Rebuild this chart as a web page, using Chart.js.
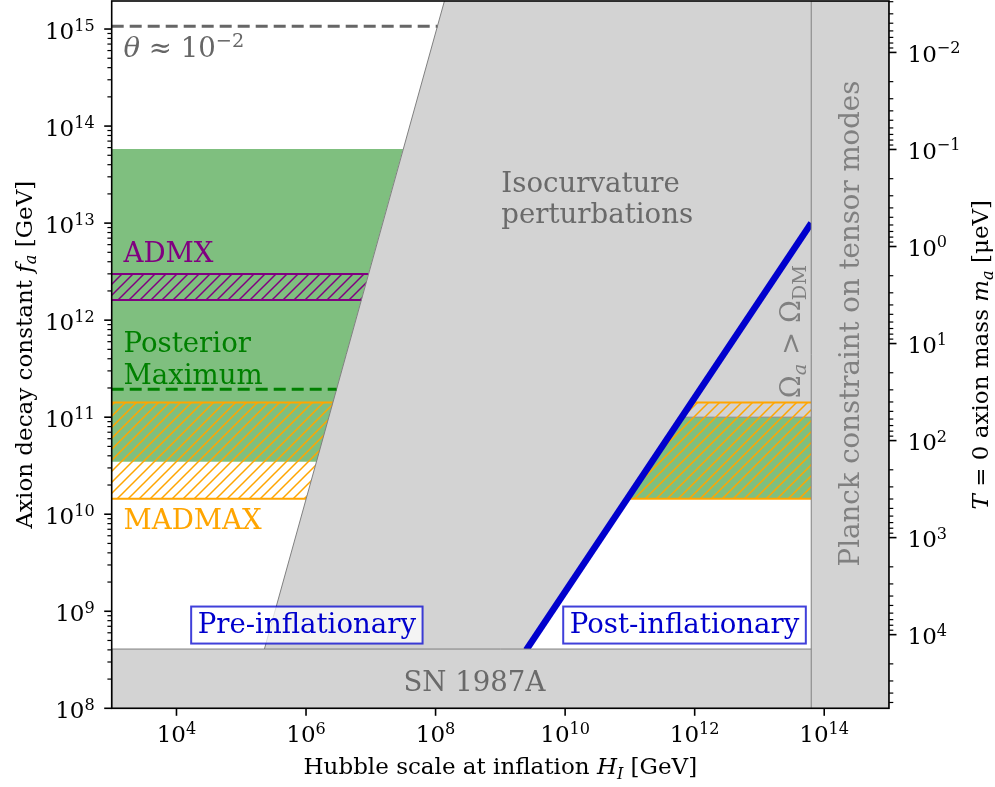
<!DOCTYPE html>
<html>
<head>
<meta charset="utf-8">
<script src="https://cdn.jsdelivr.net/npm/chart.js@4.4.1/dist/chart.umd.min.js"></script>
<style>
  html, body { margin: 0; padding: 0; background: #ffffff; }
  #c { display: block; }
</style>
</head>
<body>
<canvas id="c" width="995" height="787"></canvas>
<script>
// ---- axis ranges: Hubble scale H_I [GeV] and decay constant f_a [GeV] ----
const hubbleRange = [1e3, 1e15];
const decayRange = [1e8, 1.945e15];
// T = 0 axion mass: m_a [μeV] = massScale / f_a [GeV]
const massScale = 5.74e12;

// tick label exponents
const xTickExponents = [4, 6, 8, 10, 12, 14];
const yTickExponents = [8, 9, 10, 11, 12, 13, 14, 15];
const massTickExponents = [-2, -1, 0, 1, 2, 3, 4];

// excluded region: isocurvature (left edge) and Omega_a > Omega_DM (right side)
const exclRegionH = [1.27e5, 1.37e8, 1e15, 1e15, 6.28e11, 6.28e8];
const exclRegionF = [1e8, 1.945e15, 1.945e15, 1.0e11, 1.0e11, 1e8];
// isocurvature boundary
const isoEdgeH = [1.27e5, 1.37e8];
const isoEdgeF = [1e8, 1.945e15];
// lower edge of the Omega_a > Omega_DM region
const omegaEdgeH = [6.28e11, 6.3e13];
const omegaEdgeF = [1.0e11, 1.0e11];
// Omega_a = Omega_DM line, f_a = H_I / 2pi
const omegaLineH = [2.5e9, 6.3e13];
const omegaLineF = [3.98e8, 1.0e13];

// posterior region, pre-inflationary
const postPreH = [1e3, 1e3, 3.15e7, 1.45e6];
const postPreF = [3.47e10, 5.8e13, 5.8e13, 3.47e10];
// posterior region, post-inflationary
const postPostH = [9.05e10, 6.28e11, 6.3e13, 6.3e13];
const postPostF = [1.44e10, 1.0e11, 1.0e11, 1.44e10];

// ADMX reach
const admxH = [1e3, 1e3, 9.25e6, 7.15e6];
const admxF = [1.61e12, 2.99e12, 2.99e12, 1.61e12];
const admxTopH = [1e3, 9.25e6];
const admxBotH = [1e3, 7.15e6];
const admxTopF = [2.99e12, 2.99e12];
const admxBotF = [1.61e12, 1.61e12];

// MADMAX reach, pre- and post-inflationary
const madmaxPreH = [1e3, 1e3, 2.6e6, 1.0e6];
const madmaxPostH = [9.05e10, 8.92e11, 6.3e13, 6.3e13];
const madmaxF = [1.44e10, 1.42e11, 1.42e11, 1.44e10];
const madmaxPreTopH = [1e3, 2.6e6];
const madmaxPreBotH = [1e3, 1.0e6];
const madmaxPostTopH = [8.92e11, 6.3e13];
const madmaxPostBotH = [9.05e10, 6.3e13];
const madmaxTopF = [1.42e11, 1.42e11];
const madmaxBotF = [1.44e10, 1.44e10];

// SN 1987A bound
const snH = [1e3, 1e15, 1e15, 1e3, 1e3];
const snF = [1e8, 1e8, 4.08e8, 4.08e8, 1e8];
// Planck bound on tensor modes
const planckH = [6.3e13, 6.3e13, 1e15, 1e15, 6.3e13];
const planckF = [1e8, 1.945e15, 1.945e15, 1e8, 1e8];

// posterior maximum and theta ~ 1e-2 levels
const posteriorMaxH = [1e3, 2.96e6];
const posteriorMaxF = [1.94e11, 1.94e11];
const thetaH = [1e3, 1.07e8];
const thetaF = [1.07e15, 1.07e15];

// ---------------------------------------------------------------------
const FONT = '"DejaVu Serif", "Liberation Serif", serif';
const GREY = '#d3d3d3';
const EDGE = '#808080';
const DIM = '#6a6a6a';
const BLUE = '#0000cd';

const pts = (hs, fs) => hs.map((h, i) => ({ x: h, y: fs[i] }));

function hatch(color) {
  const s = 11;
  const c = document.createElement('canvas');
  c.width = s; c.height = s;
  const g = c.getContext('2d');
  g.strokeStyle = color;
  g.lineWidth = 1.5;
  g.beginPath();
  g.moveTo(-2, s + 2); g.lineTo(s + 2, -2);
  g.moveTo(-2, 2); g.lineTo(2, -2);
  g.moveTo(s - 2, s + 2); g.lineTo(s + 2, s - 2);
  g.stroke();
  return g.createPattern(c, 'repeat');
}

function poly(hs, fs, color, extra) {
  return Object.assign({
    data: pts(hs, fs), showLine: true, fill: 'shape', backgroundColor: color,
    borderWidth: 0, pointRadius: 0, tension: 0
  }, extra || {});
}
function seg(hs, fs, color, width, dash) {
  return {
    data: pts(hs, fs), showLine: true, fill: false, borderColor: color,
    borderWidth: width, borderDash: dash || [], pointRadius: 0, tension: 0
  };
}

// listed from bottom layer to top layer
const layers = [
  poly(exclRegionH, exclRegionF, GREY),
  poly(postPreH, postPreF, 'rgba(0,128,0,0.5)'),
  poly(postPostH, postPostF, 'rgba(0,128,0,0.5)'),
  seg(omegaEdgeH, omegaEdgeF, '#8c8c8c', 1),
  poly(admxH, admxF, hatch('#800080')),
  seg(admxTopH, admxTopF, '#800080', 2),
  seg(admxBotH, admxBotF, '#800080', 2),
  poly(madmaxPreH, madmaxF, hatch('#ffa500')),
  poly(madmaxPostH, madmaxF, hatch('#ffa500')),
  seg(madmaxPreTopH, madmaxTopF, '#ffa500', 2),
  seg(madmaxPreBotH, madmaxBotF, '#ffa500', 2),
  seg(madmaxPostTopH, madmaxTopF, '#ffa500', 2),
  seg(madmaxPostBotH, madmaxBotF, '#ffa500', 2),
  seg(isoEdgeH, isoEdgeF, EDGE, 1),
  seg(omegaLineH, omegaLineF, BLUE, 6.5),
  poly(snH, snF, GREY, { borderColor: EDGE, borderWidth: 1 }),
  poly(planckH, planckF, GREY, { borderColor: EDGE, borderWidth: 1 }),
  seg(posteriorMaxH, posteriorMaxF, '#008000', 3, [12, 6]),
  seg(thetaH, thetaF, '#666666', 3, [12, 6])
];
layers.forEach((d, i) => { d.order = layers.length - i; });

// ---- rich text helpers (super/subscripts, italics) ----
const rm = (t, s) => ({ t, s, it: false, dy: 0 });
const it = (t, s) => ({ t, s, it: true, dy: 0 });
const sup = (t, s) => ({ t, s: s * 0.7, it: false, dy: s * 0.37 });
const sub = (t, s, italic) => ({ t, s: s * 0.7, it: !!italic, dy: -s * 0.2 });
const fontOf = p => `${p.it ? 'italic ' : ''}${p.s}px ${FONT}`;

function richWidth(ctx, parts) {
  let w = 0;
  for (const p of parts) { ctx.font = fontOf(p); w += ctx.measureText(p.t).width; }
  return w;
}
function drawRich(ctx, parts, x, y, align, color, angle) {
  ctx.save();
  ctx.translate(x, y);
  if (angle) ctx.rotate(angle);
  const w = richWidth(ctx, parts);
  let cx = align === 'center' ? -w / 2 : align === 'right' ? -w : 0;
  ctx.fillStyle = color;
  ctx.textAlign = 'left';
  ctx.textBaseline = 'alphabetic';
  for (const p of parts) {
    ctx.font = fontOf(p);
    ctx.fillText(p.t, cx, -p.dy);
    cx += ctx.measureText(p.t).width;
  }
  ctx.restore();
}
const pow10 = (e, s) => [rm('10', s), sup(String(e).replace('-', '\u2212'), s)];

// ---- labels placed in data coordinates ----
const S = 27.6;
const notes = [
  { h: 1.52e3, f: 5.15e14, parts: [it('θ', S), rm(' ≈ ', S), ...pow10(-2, S)], color: '#666666' },
  { h: 1.52e3, f: 3.97e12, parts: [rm('ADMX', S)], color: '#800080' },
  { h: 1.52e3, f: 4.70e11, parts: [rm('Posterior', S)], color: '#008000' },
  { h: 1.52e3, f: 2.22e11, parts: [rm('Maximum', S)], color: '#008000' },
  { h: 1.52e3, f: 7.05e9, parts: [rm('MADMAX', S)], color: '#ffa500' },
  { h: 1.035e9, f: 2.09e13, parts: [rm('Isocurvature', S)], color: DIM },
  { h: 1.035e9, f: 1.0e13, parts: [rm('perturbations', S)], color: DIM },
  { h: 3.97e8, f: 1.51e8, parts: [rm('SN 1987A', S)], color: DIM, align: 'center' },
  { h: 3.49e14, f: 9.23e11, parts: [rm('Planck constraint on tensor modes', S)], color: '#808080', align: 'center', angle: -Math.PI / 2 },
  { h: 4.3e13, f: 1.57e11, parts: [rm('Ω', S), sub('a', S, true), rm(' > ', S), rm('Ω', S), sub('DM', S)], color: '#808080', angle: -Math.PI / 2 }
];
const boxes = [
  { h: 1.03e6, f: 7.21e8, text: 'Pre-inflationary' },
  { h: 6.97e11, f: 7.21e8, text: 'Post-inflationary' }
];

const T = 23;   // tick label size
const L = 23;   // axis label size

const decor = {
  id: 'decor',
  afterDatasetsDraw(chart) {
    const { ctx, scales: { x, y } } = chart;
    for (const n of notes) {
      drawRich(ctx, n.parts, x.getPixelForValue(n.h), y.getPixelForValue(n.f), n.align || 'left', n.color, n.angle || 0);
    }
    for (const b of boxes) {
      const cx = x.getPixelForValue(b.h), cy = y.getPixelForValue(b.f);
      ctx.save();
      ctx.font = `${S}px ${FONT}`;
      const w = ctx.measureText(b.text).width + 13;
      const hgt = 37;
      ctx.fillStyle = 'rgba(255,255,255,0.75)';
      ctx.fillRect(cx - w / 2, cy - hgt / 2, w, hgt);
      ctx.strokeStyle = 'rgba(0,0,205,0.75)';
      ctx.lineWidth = 2;
      ctx.strokeRect(cx - w / 2, cy - hgt / 2, w, hgt);
      ctx.fillStyle = BLUE;
      ctx.textAlign = 'center';
      ctx.textBaseline = 'alphabetic';
      ctx.fillText(b.text, cx, cy + 8);
      ctx.restore();
    }
  },
  afterDraw(chart) {
    const { ctx, chartArea: a, scales: { x, y, m } } = chart;
    const tick = (x1, y1, x2, y2, w) => {
      ctx.lineWidth = w;
      ctx.beginPath(); ctx.moveTo(x1, y1); ctx.lineTo(x2, y2); ctx.stroke();
    };
    ctx.save();
    ctx.strokeStyle = '#000';
    ctx.lineWidth = 1.6;
    ctx.strokeRect(a.left, a.top, a.right - a.left, a.bottom - a.top);

    // bottom axis
    for (const e of xTickExponents) {
      const px = x.getPixelForValue(Math.pow(10, e));
      tick(px, a.bottom, px, a.bottom + 7.5, 1.6);
      drawRich(ctx, pow10(e, T), px, a.bottom + 34, 'center', '#000');
    }
    // left axis
    const [fLo, fHi] = decayRange;
    for (let e = Math.floor(Math.log10(fLo)); e <= Math.ceil(Math.log10(fHi)); e++) {
      for (let k = 2; k <= 9; k++) {
        const v = k * Math.pow(10, e);
        if (v <= fLo || v >= fHi) continue;
        const py = y.getPixelForValue(v);
        tick(a.left, py, a.left - 4.3, py, 1.2);
      }
    }
    for (const e of yTickExponents) {
      const py = y.getPixelForValue(Math.pow(10, e));
      tick(a.left, py, a.left - 7.5, py, 1.6);
      drawRich(ctx, pow10(e, T), a.left - 17, py + 10, 'right', '#000');
    }
    // right axis: axion mass
    const mLo = massScale / fHi, mHi = massScale / fLo;
    for (let e = Math.floor(Math.log10(mLo)); e <= Math.ceil(Math.log10(mHi)); e++) {
      for (let k = 2; k <= 9; k++) {
        const v = k * Math.pow(10, e);
        if (v <= mLo || v >= mHi) continue;
        const py = m.getPixelForValue(v);
        tick(a.right, py, a.right + 4.3, py, 1.2);
      }
    }
    for (const e of massTickExponents) {
      const py = m.getPixelForValue(Math.pow(10, e));
      tick(a.right, py, a.right + 7.5, py, 1.6);
      drawRich(ctx, pow10(e, T), a.right + 18.5, py + 9.5, 'left', '#000');
    }

    // axis titles
    const cxp = (a.left + a.right) / 2, cyp = (a.top + a.bottom) / 2;
    drawRich(ctx, [rm('Hubble scale at inflation ', L), it('H', L), sub('I', L, true), rm(' [GeV]', L)],
      cxp, 774, 'center', '#000');
    drawRich(ctx, [rm('Axion decay constant ', L), it('f', L), sub('a', L, true), rm(' [GeV]', L)],
      31.5, cyp, 'center', '#000', -Math.PI / 2);
    drawRich(ctx, [it('T', L), rm(' = 0 axion mass ', L), it('m', L), sub('a', L, true), rm(' [μeV]', L)],
      988.3, cyp, 'center', '#000', -Math.PI / 2);
    ctx.restore();
  }
};

new Chart(document.getElementById('c'), {
  type: 'line',
  data: { datasets: layers },
  options: {
    responsive: false,
    animation: false,
    devicePixelRatio: 1,
    events: [],
    layout: { padding: { left: 111.7, right: 106, top: 1, bottom: 78.7 } },
    plugins: { legend: { display: false }, tooltip: { enabled: false } },
    scales: {
      x: { type: 'logarithmic', display: false, min: hubbleRange[0], max: hubbleRange[1], bounds: 'data' },
      y: { type: 'logarithmic', display: false, position: 'left', min: decayRange[0], max: decayRange[1], bounds: 'data' },
      m: { type: 'logarithmic', display: false, position: 'right', reverse: true,
           min: massScale / decayRange[1], max: massScale / decayRange[0], bounds: 'data' }
    }
  },
  plugins: [decor]
});
</script>
</body>
</html>
